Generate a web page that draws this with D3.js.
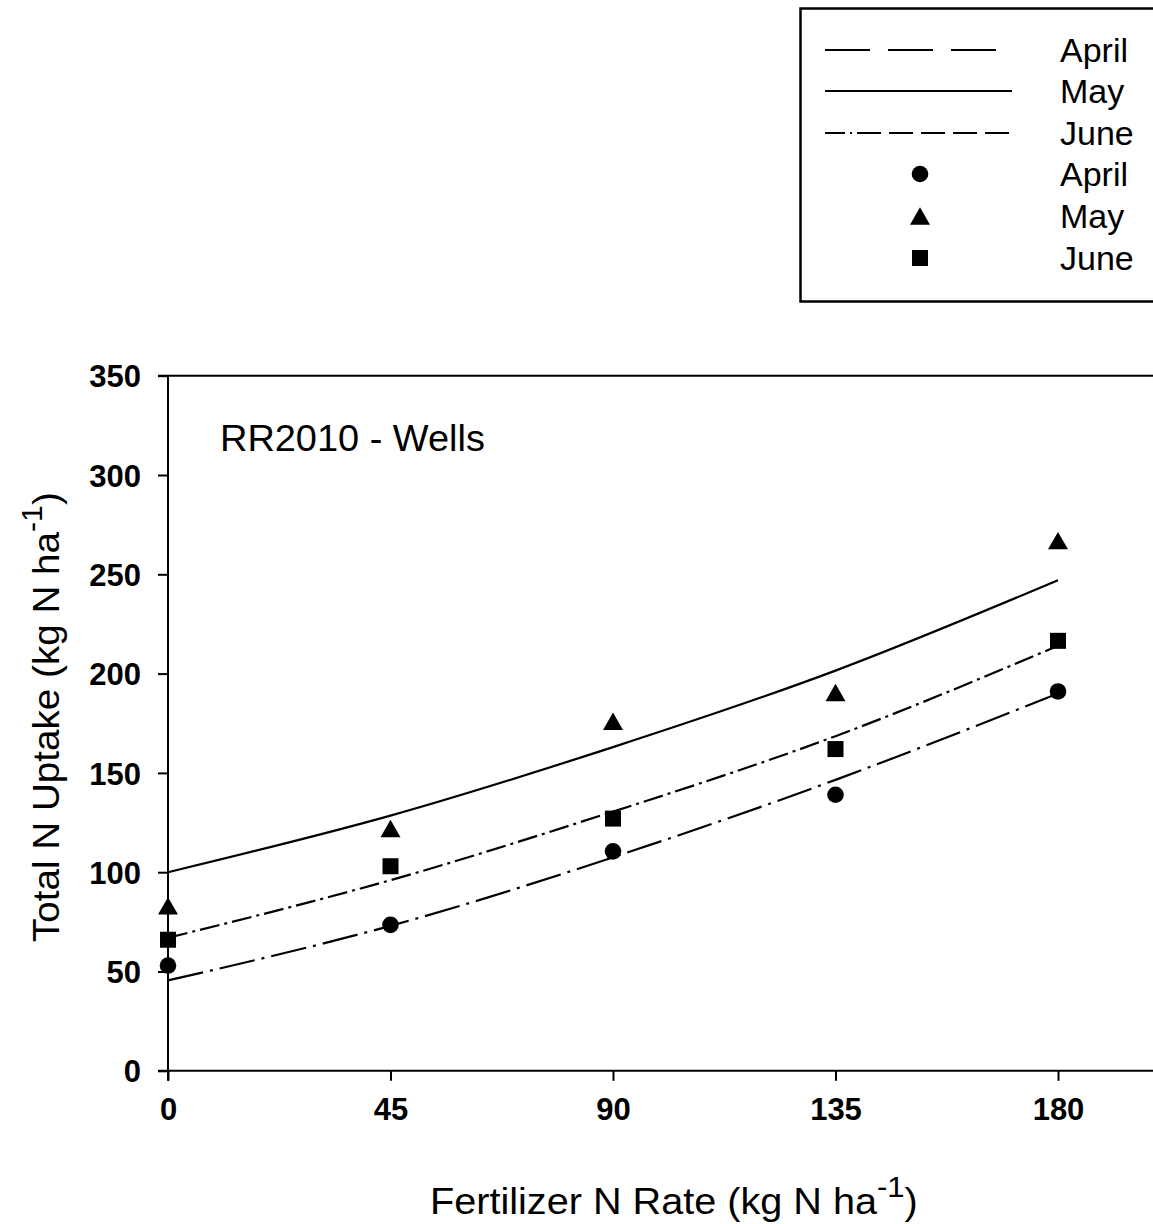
<!DOCTYPE html>
<html><head><meta charset="utf-8">
<script src="https://cdn.jsdelivr.net/npm/d3@7"></script>
<style>html,body{margin:0;padding:0;background:#fff;}svg{display:block;}</style>
</head><body>
<script>
// ---- data ----
const xRates = [0, 45, 90, 135, 180];
const xTickLabels = ["0", "45", "90", "135", "180"];
const yTickValues = [0, 50, 100, 150, 200, 250, 300, 350];
// observed points (Total N uptake, kg N/ha)
const aprilObs = [53, 73.5, 110.5, 139, 191];
const mayObs   = [83, 122, 176, 190.5, 267];
const juneObs  = [66, 103, 127, 162, 216.5];
// fitted regression curves read at the same rates
const aprilFit = [45.5, 73, 107.5, 146.5, 190];
const mayFit   = [100, 128.5, 163, 201.5, 247];
const juneFit  = [67, 96, 130.5, 168.5, 214];
const legendNames = ["April", "May", "June", "April", "May", "June"];
const titleText = "RR2010 - Wells";

const W = 1153, H = 1224;
const svg = d3.select("body").append("svg").attr("width", W).attr("height", H)
  .style("font-family", "'Liberation Sans', Arial, sans-serif");

const x = d3.scaleLinear().domain([0, 200]).range([168, 168 + 890 / 180 * 200]);
const y = d3.scaleLinear().domain([0, 350]).range([1070.8, 375.7]);

// frame top line
svg.append("line").attr("x1", 158).attr("x2", W).attr("y1", y(350)).attr("y2", y(350))
  .attr("stroke", "#000").attr("stroke-width", 2);

// axes
const yAxis = d3.axisLeft(y).tickValues(yTickValues).tickSize(10).tickPadding(17).tickFormat(d3.format("d"));
const gy = svg.append("g").attr("transform", `translate(${x(0)},0)`).call(yAxis);
const xAxis = d3.axisBottom(x).tickValues(xRates).tickSize(10).tickPadding(8).tickFormat((d, i) => xTickLabels[i]);
const gx = svg.append("g").attr("transform", `translate(0,${y(0)})`).call(xAxis);
[gx, gy].forEach(g => {
  g.select(".domain").remove();
  g.selectAll(".tick line").attr("stroke", "#000").attr("stroke-width", 2);
  g.selectAll(".tick text").attr("fill", "#000").style("font-size", "31px").style("font-weight", "bold")
    .style("font-family", "'Liberation Sans', Arial, sans-serif");
});
gy.selectAll(".tick text").attr("dy", "0.36em");
gx.selectAll(".tick text").attr("dy", "1.0em");
// axis lines
svg.append("line").attr("x1", x(0)).attr("x2", x(0)).attr("y1", y(350)).attr("y2", y(0) + 10)
  .attr("stroke", "#000").attr("stroke-width", 2);
svg.append("line").attr("x1", 158).attr("x2", W).attr("y1", y(0)).attr("y2", y(0))
  .attr("stroke", "#000").attr("stroke-width", 2);

// fitted curves
const line = d3.line().x((d, i) => x(xRates[i])).y(d => y(d)).curve(d3.curveNatural);
const curves = [
  { data: aprilFit, dash: "36,7,3,7" },
  { data: mayFit, dash: null },
  { data: juneFit, dash: "20,5,3,5" }
];
curves.forEach(c => {
  svg.append("path").attr("d", line(c.data)).attr("fill", "none").attr("stroke", "#000")
    .attr("stroke-width", 2.2).attr("stroke-dasharray", c.dash);
});

// markers
const triSize = Math.sqrt(3) / 4 * 20 * 20;
const triH = 20 * Math.sqrt(3) / 2;
function drawMarker(g, kind, cx, cy) {
  if (kind === "circle") {
    g.append("circle").attr("cx", cx).attr("cy", cy).attr("r", 8.3).attr("fill", "#000");
  } else if (kind === "square") {
    g.append("rect").attr("x", cx - 8).attr("y", cy - 8).attr("width", 16).attr("height", 16).attr("fill", "#000");
  } else {
    g.append("path").attr("d", d3.symbol(d3.symbolTriangle, triSize)())
      .attr("transform", `translate(${cx},${cy + triH / 6})`).attr("fill", "#000");
  }
}
const markers = svg.append("g");
aprilObs.forEach((v, i) => drawMarker(markers, "circle", x(xRates[i]), y(v)));
mayObs.forEach((v, i) => drawMarker(markers, "triangle", x(xRates[i]), y(v)));
juneObs.forEach((v, i) => drawMarker(markers, "square", x(xRates[i]), y(v)));

// helper to fit text to measured length along its direction
function fitText(t, cx, cy, targetLen, rotate) {
  const bb = t.node().getBBox();
  const s = targetLen / bb.width;
  const ox = bb.x + bb.width / 2, oy = bb.y + bb.height / 2;
  t.attr("transform", `translate(${cx},${cy})${rotate ? " rotate(-90)" : ""} scale(${s},1) translate(${-ox},${-oy})`);
}

// title
const title = svg.append("text").attr("x", 0).attr("y", 0).style("font-size", "36px").attr("fill", "#000").text(titleText);
fitText(title, (220 + 485) / 2, 438, 265, false);

// x axis label
const xl = svg.append("text").attr("x", 0).attr("y", 0).style("font-size", "37px").attr("fill", "#000");
xl.append("tspan").text("Fertilizer N Rate (kg N ha");
xl.append("tspan").attr("dy", -17).style("font-size", "29px").text("-1");
xl.append("tspan").attr("dy", 17).text(")");
fitText(xl, (430 + 918) / 2, 1196, 488, false);

// y axis label
const yl = svg.append("text").attr("x", 0).attr("y", 0).style("font-size", "37px").attr("fill", "#000");
yl.append("tspan").text("Total N Uptake (kg N ha");
yl.append("tspan").attr("dy", -17).style("font-size", "29px").text("-1");
yl.append("tspan").attr("dy", 17).text(")");
fitText(yl, 41, 717, 450, true);

// legend
const lg = svg.append("g");
lg.append("rect").attr("x", 800.5).attr("y", 8.5).attr("width", 400).attr("height", 293)
  .attr("fill", "#fff").attr("stroke", "#000").attr("stroke-width", 2.5);
const rowY = [50, 91, 133, 174, 216, 258];
const legDash = ["45,18", null, "20,5,2,5,24,8,24,8,24,8,24,8,24,8"];
[0, 1, 2].forEach(i => {
  lg.append("line").attr("x1", 825).attr("x2", 1012).attr("y1", rowY[i]).attr("y2", rowY[i])
    .attr("stroke", "#000").attr("stroke-width", 2).attr("stroke-dasharray", legDash[i]);
});
drawMarker(lg, "circle", 920, rowY[3]);
drawMarker(lg, "triangle", 920, rowY[4]);
drawMarker(lg, "square", 920, rowY[5]);
legendNames.forEach((n, i) => {
  lg.append("text").attr("x", 1060).attr("y", rowY[i]).attr("dy", "0.36em")
    .style("font-size", "34px").attr("fill", "#000").text(n);
});
</script>
</body></html>
